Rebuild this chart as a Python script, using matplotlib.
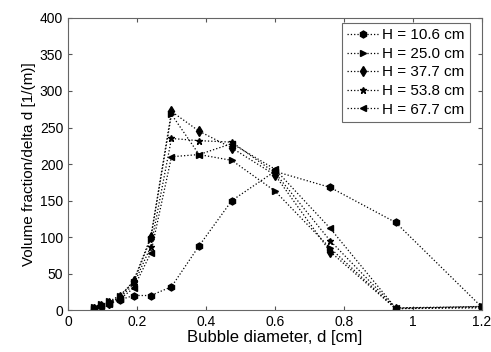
import matplotlib
matplotlib.use('Agg')
from matplotlib import pyplot as plt

plt.rcParams['font.family'] = ['Liberation Sans', 'DejaVu Sans']

d = [0.075, 0.095, 0.12, 0.15, 0.19, 0.24, 0.30, 0.38, 0.475, 0.60, 0.76, 0.95, 1.20]

h106 = [3, 6, 9, 14, 20, 20, 32, 88, 150, 190, 168, 120, 4]
h250 = [4, 8, 12, 20, 38, 98, 268, 213, 205, 163, 85, 2, 5]
h377 = [2, 6, 10, 18, 40, 100, 272, 245, 222, 185, 80, 2, 3]
h538 = [3, 7, 11, 17, 35, 87, 235, 232, 230, 188, 95, 3, 4]
h677 = [2, 5, 9, 15, 30, 78, 210, 213, 228, 193, 112, 3, 5]

labels = ['H = 10.6 cm', 'H = 25.0 cm', 'H = 37.7 cm', 'H = 53.8 cm', 'H = 67.7 cm']
markers = ['h', '>', 'd', '*', '<']
series = [h106, h250, h377, h538, h677]

fig = plt.figure(figsize=(4.91, 3.52), dpi=100)
ax = fig.add_axes([0.1385, 0.119, 0.843, 0.830])

for y, m, lab in zip(series, markers, labels):
    ax.plot(d, y, linestyle=':', color='black', linewidth=0.9,
            marker=m, markersize=5, label=lab)

ax.set_xlim(0, 1.2)
ax.set_ylim(0, 400)
ax.set_xticks([0, 0.2, 0.4, 0.6, 0.8, 1, 1.2])
ax.set_xticklabels(['0', '0.2', '0.4', '0.6', '0.8', '1', '1.2'])
ax.set_yticks(range(0, 401, 50))
ax.tick_params(direction='in', top=True, right=True, labelsize=10, length=3,
               color='#555555')
for s in ax.spines.values():
    s.set_color('#666666')
ax.set_xlabel('Bubble diameter, d [cm]', fontsize=12, labelpad=1)
ax.set_ylabel('Volume fraction/delta d [1/(m)]', fontsize=11, labelpad=3)

leg = ax.legend(loc='upper right', bbox_to_anchor=(0.971, 0.983), fontsize=11,
                frameon=True, fancybox=False, edgecolor='#444444',
                handlelength=2.1, borderpad=0.35, labelspacing=0.3,
                handletextpad=0.2, borderaxespad=0)
leg.get_frame().set_linewidth(0.8)

plt.savefig('out.png', dpi=100)
